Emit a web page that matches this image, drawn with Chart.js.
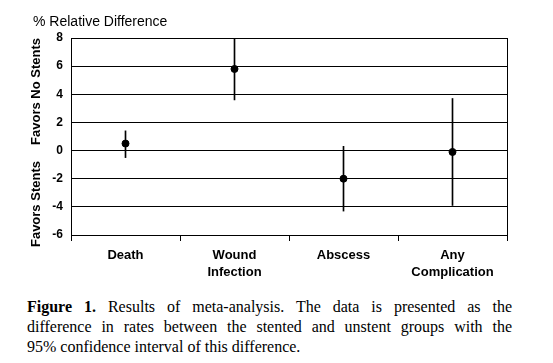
<!DOCTYPE html>
<html>
<head>
<meta charset="utf-8">
<script src="https://cdn.jsdelivr.net/npm/chart.js@4.4.0/dist/chart.umd.min.js"></script>
<style>
  body { margin: 0; background: #fff; }
  #wrap { position: absolute; left: 0; top: 0; width: 553px; height: 290px; }
  #caption {
    position: absolute; left: 27px; top: 297px; width: 485px;
    font-family: "Liberation Serif", "Times New Roman", serif;
    font-size: 16px; line-height: 20px; color: #000;
  }
  #caption div { text-align: justify; text-align-last: justify; white-space: nowrap; }
  #caption div.last { text-align-last: left; }
</style>
</head>
<body>
<div id="wrap"><canvas id="chart" width="553" height="290"></canvas></div>
<div id="caption">
  <div style="white-space: normal"><b>Figure 1.</b> Results of meta-analysis. The data is presented as the</div>
  <div style="white-space: normal">difference in rates between the stented and unstent groups with the</div>
  <div class="last">95% confidence interval of this difference.</div>
</div>
<script>
const categories = [['Death'], ['Wound', 'Infection'], ['Abscess'], ['Any', 'Complication']];
const estimates = [0.5, 5.8, -2.0, -0.1];
const lowerCI = [-0.5, 3.6, -4.3, -3.9];
const upperCI = [1.4, 8.2, 0.3, 3.7];
const yTicks = [-6, -4, -2, 0, 2, 4, 6, 8];

const ciRanges = lowerCI.map((lo, i) => [lo, upperCI[i]]);

// axis titles drawn beside the plot
const sideText = {
    id: 'sideText',
    afterDraw(chart) {
        const ctx = chart.ctx;
        const y = chart.scales.y;
        ctx.save();
        ctx.fillStyle = '#000';
        ctx.font = '14px Arial, "Liberation Sans", sans-serif';
        ctx.textAlign = 'left';
        ctx.textBaseline = 'middle';
        ctx.fillText('% Relative Difference', 33, 22);

        ctx.font = 'bold 13px Arial, "Liberation Sans", sans-serif';
        ctx.textAlign = 'center';
        ctx.translate(36, 0);
        ctx.rotate(-Math.PI / 2);
        ctx.fillText('Favors No Stents', -y.getPixelForValue(4.2), 0);
        ctx.fillText('Favors Stents', -y.getPixelForValue(-3.8), 0);
        ctx.restore();
    }
};

new Chart(document.getElementById('chart'), {
    data: {
        labels: categories,
        datasets: [
            {
                type: 'line',
                data: estimates,
                showLine: false,
                pointRadius: 3.5,
                pointBackgroundColor: '#000',
                pointBorderColor: '#000',
                order: 0
            },
            {
                type: 'bar',
                data: ciRanges,
                backgroundColor: '#000',
                borderWidth: 0,
                barThickness: 1,
                order: 1
            }
        ]
    },
    options: {
        responsive: false,
        animation: false,
        layout: { padding: { left: 0, right: 0, top: 38, bottom: 0 } },
        plugins: { legend: { display: false }, tooltip: { enabled: false } },
        scales: {
            x: {
                grid: { drawOnChartArea: false, offset: true, color: '#000', tickLength: 6 },
                border: { color: '#000', width: 1 },
                ticks: {
                    color: '#000', padding: 6,
                    font: { family: 'Arial, "Liberation Sans", sans-serif', size: 13, weight: 'bold', lineHeight: 1.3 }
                },
                afterFit(scale) { scale.height = 55; }
            },
            y: {
                min: -6, max: 8,
                afterBuildTicks(scale) { scale.ticks = yTicks.map(v => ({ value: v })); },
                grid: { color: '#000', drawTicks: false },
                border: { color: '#000', width: 1 },
                ticks: {
                    color: '#000', padding: 8,
                    font: { family: 'Arial, "Liberation Sans", sans-serif', size: 12, weight: 'bold' }
                },
                afterFit(scale) { scale.width = 71; }
            },
            y2: {
                position: 'right',
                min: -6, max: 8,
                grid: { display: false },
                border: { color: '#000', width: 1 },
                ticks: { display: false },
                afterFit(scale) { scale.width = 46; }
            }
        }
    },
    plugins: [sideText]
});
</script>
</body>
</html>
